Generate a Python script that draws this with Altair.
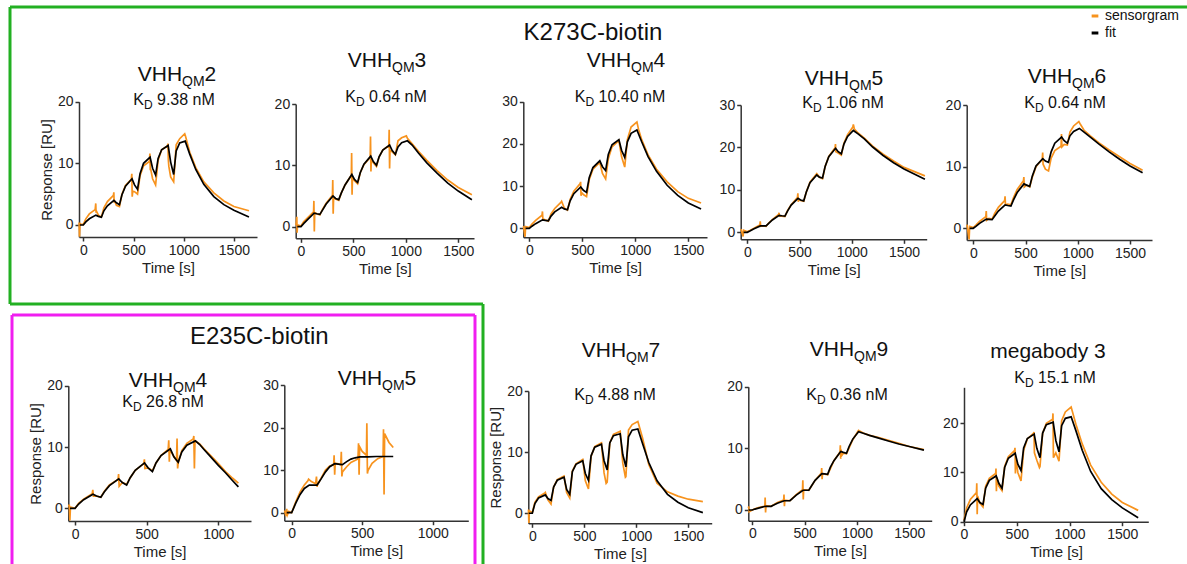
import altair as alt
import pandas as pd

W, H = 1187, 564
ORANGE = "#f7931e"
BLACK = "#000000"
GREEN = "#22b022"
MAGENTA = "#f01ef0"
FONT = "Arial, Liberation Sans, Helvetica, sans-serif"

# ---------------- data ----------------
SERIES = ["sensorgram", "fit"]

T_FIT6 = [-35, 0, 25, 60, 125, 150, 180, 205, 240, 305, 330, 360, 385, 420, 485, 510,
          540, 565, 600, 665, 690, 720, 745, 780, 845, 870, 900, 925, 960, 1015, 1060,
          1120, 1200, 1300, 1400, 1500]
T_FIT5 = [-35, 0, 25, 60, 125, 150, 180, 205, 240, 305, 330, 360, 385, 420, 485, 510,
          540, 565, 600, 665, 690, 720, 745, 780, 840, 870, 900, 950, 1000, 1050, 1100, 1140]
T_FIT_E5 = [-35, 0, 30, 60, 90, 125, 180, 210, 240, 270, 305, 330, 360, 390, 420, 450,
            485, 540, 600, 660, 720]

FIT_QM2 = [0, 0, 0.5, 1.0, 1.6, 1.4, 1.25, 2.3, 3.1, 4.0, 3.6, 3.3, 4.9, 6.3, 7.5, 6.5,
           5.8, 8.3, 10.0, 11.0, 9.2, 8.1, 10.8, 12.2, 12.9, 10.2, 8.2, 12.0, 13.3, 13.6,
           11.5, 9.0, 6.6, 4.6, 3.3, 2.4, 1.3]
SENS_QM2 = [(-42, 0.4), (-38, -1.9), (-33, 0.3), (-28, 0.1), (0, 0.1), (25, 1.0), (60, 1.8),
            (118, 2.5), (124, 3.5), (127, 2.0), (132, 2.2), (150, 1.6), (180, 1.3), (205, 2.8),
            (240, 3.8), (300, 4.8), (304, 5.3), (307, 3.6), (312, 3.9), (330, 3.2), (360, 3.0),
            (385, 5.0), (420, 6.4), (478, 7.4), (483, 8.3), (487, 4.6), (492, 5.5), (510, 5.4),
            (540, 5.0), (565, 8.0), (600, 9.6), (658, 10.3), (663, 11.6), (667, 9.0), (672, 9.0),
            (690, 7.5), (720, 6.5), (745, 10.5), (780, 12.2), (838, 12.8), (843, 13.2),
            (847, 10.5), (852, 9.5), (870, 7.8), (900, 7.0), (925, 13.0), (960, 14.0),
            (1010, 14.8), (1018, 14.4), (1060, 11.8), (1120, 9.3), (1200, 7.0), (1300, 5.2),
            (1400, 3.9), (1500, 3.0), (1650, 2.3)]

FIT_QM3 = [0, 0, 0.5, 1.1, 2.2, 2.1, 2.0, 2.7, 3.7, 5.0, 4.6, 4.4, 5.5, 6.8, 8.5, 7.7, 7.2,
           8.8, 10.2, 11.5, 10.6, 10.0, 11.4, 12.5, 13.3, 12.4, 11.8, 13.0, 13.7, 14.0, 13.3,
           12.0, 10.4, 8.7, 7.1, 5.8, 4.4]
SENS_QM3 = [(-48, 0.2), (-40, 1.6), (-37, -1.0), (-33, 0.3), (0, 0.1), (25, 0.8), (60, 1.4),
            (120, 2.4), (123, 4.2), (127, -0.8), (131, 2.3), (150, 2.1), (180, 1.9), (205, 2.8),
            (240, 3.8), (300, 5.1), (303, 7.6), (307, 2.1), (311, 4.8), (330, 4.5), (360, 4.3),
            (385, 5.5), (420, 6.8), (480, 8.4), (483, 12.0), (487, 5.2), (491, 8.0), (510, 7.5),
            (540, 7.0), (565, 8.8), (600, 10.1), (660, 11.3), (663, 14.7), (667, 9.0),
            (671, 11.0), (690, 10.4), (720, 9.8), (745, 11.4), (780, 12.5), (838, 13.2),
            (841, 15.8), (845, 9.5), (849, 12.5), (870, 12.2), (900, 11.7), (925, 14.0),
            (960, 14.5), (1005, 14.8), (1015, 14.4), (1060, 13.5), (1120, 12.3), (1200, 10.8),
            (1300, 9.1), (1400, 7.6), (1500, 6.4), (1630, 5.2)]

FIT_QM4 = [0, 0, 0.5, 1.1, 2.0, 1.9, 1.8, 2.9, 3.9, 5.0, 4.6, 4.4, 6.5, 8.2, 9.8, 9.0, 8.5,
           12.0, 14.4, 16.0, 14.6, 13.7, 17.5, 19.8, 21.0, 18.5, 16.8, 20.5, 22.5, 23.3, 20.5,
           17.0, 13.5, 10.2, 7.8, 6.0, 4.6]
SENS_QM4 = [(-55, 0.5), (-40, -2.0), (-35, 0.4), (0, 0.2), (25, 1.0), (60, 1.9), (120, 3.1),
            (124, 4.0), (128, 2.2), (150, 2.0), (180, 1.7), (205, 3.4), (240, 4.7), (300, 6.2),
            (305, 6.4), (330, 4.8), (360, 4.3), (385, 6.8), (420, 8.8), (480, 10.6), (484, 11.0),
            (488, 7.7), (492, 8.5), (510, 8.0), (540, 7.5), (565, 11.5), (600, 14.0), (665, 15.6),
            (690, 13.0), (720, 11.7), (745, 16.5), (780, 19.3), (845, 20.8), (870, 17.0),
            (900, 14.5), (925, 21.0), (960, 24.0), (1005, 25.0), (1015, 25.2), (1030, 23.5),
            (1060, 21.0), (1120, 17.4), (1200, 14.0), (1300, 11.0), (1400, 8.7), (1500, 7.1),
            (1620, 6.0)]

FIT_QM5 = [0, 0, 0.3, 0.8, 1.5, 1.5, 1.5, 2.1, 2.9, 4.0, 3.9, 3.8, 5.0, 6.4, 8.0, 7.6, 7.4,
           9.5, 11.7, 13.5, 13.0, 12.8, 15.5, 17.8, 19.8, 19.0, 18.5, 20.8, 22.6, 24.0, 23.2,
           22.0, 20.1, 18.1, 16.4, 14.9, 12.5]
SENS_QM5 = [(-60, 0.8), (-40, -1.0), (-35, 0.5), (0, 0.1), (25, 0.4), (60, 0.9), (120, 1.7),
            (124, 2.6), (128, 1.4), (150, 1.5), (180, 1.4), (205, 2.2), (240, 3.0), (300, 4.2),
            (304, 4.6), (308, 3.8), (330, 3.8), (360, 3.7), (385, 5.1), (420, 6.5), (480, 8.2),
            (484, 9.2), (488, 7.2), (492, 7.8), (510, 7.5), (540, 7.3), (565, 9.5), (600, 11.8),
            (665, 13.8), (690, 13.0), (720, 12.6), (745, 15.5), (780, 17.9), (840, 19.9),
            (844, 20.8), (848, 19.0), (870, 18.7), (900, 18.2), (925, 21.0), (960, 23.0),
            (1010, 24.8), (1015, 25.4), (1025, 24.3), (1060, 23.4), (1120, 22.2), (1200, 20.3),
            (1300, 18.4), (1400, 16.8), (1500, 15.3), (1700, 13.3)]

FIT_QM6 = [0, 0, 0.3, 0.8, 1.5, 1.45, 1.4, 2.0, 2.8, 3.8, 3.7, 3.6, 4.6, 5.8, 7.2, 7.0, 6.8,
           8.5, 10.1, 11.3, 10.9, 10.7, 12.4, 13.8, 14.8, 14.2, 13.8, 15.0, 15.7, 16.2, 15.6,
           14.8, 13.7, 12.4, 11.2, 10.1, 9.0]
SENS_QM6 = [(-60, 0.6), (-40, -1.8), (-35, 0.3), (0, 0.1), (25, 0.5), (60, 1.1), (120, 1.9),
            (124, 2.8), (128, 1.3), (150, 1.6), (180, 1.5), (205, 2.4), (240, 3.4), (300, 4.5),
            (304, 5.2), (308, 3.8), (330, 3.9), (360, 3.8), (385, 5.0), (420, 6.3), (480, 7.7),
            (484, 8.3), (488, 6.7), (510, 7.0), (540, 6.7), (565, 8.3), (600, 10.0), (660, 11.2),
            (664, 12.3), (668, 10.4), (690, 9.6), (720, 9.3), (745, 11.4), (780, 12.6),
            (840, 13.3), (844, 15.3), (848, 13.2), (870, 13.6), (900, 13.5), (925, 15.6),
            (960, 16.6), (1010, 17.3), (1020, 17.0), (1060, 15.9), (1120, 15.0), (1200, 13.9),
            (1300, 12.7), (1400, 11.6), (1500, 10.5), (1620, 9.4)]

FIT_E_QM4 = [0, 0, 0.7, 1.4, 2.3, 2.0, 1.8, 2.7, 3.7, 4.8, 4.2, 3.8, 5.0, 6.2, 7.4, 6.6, 6.0,
             7.4, 8.6, 9.7, 8.4, 7.5, 9.2, 10.3, 11.0, 10.4, 9.6, 8.3, 7.0, 5.8, 4.5, 3.5]
SENS_E_QM4 = [(-45, 0.3), (-40, 0.6), (-36, -2.0), (-32, 0.2), (0, 0.0), (25, 0.8), (60, 1.5),
              (120, 2.4), (124, 3.0), (128, 2.0), (150, 2.0), (180, 1.8), (205, 2.8), (240, 3.8),
              (300, 4.7), (304, 5.6), (308, 3.6), (330, 4.2), (360, 3.9), (385, 5.0), (420, 6.2),
              (480, 7.3), (484, 8.0), (488, 6.5), (510, 6.6), (540, 6.1), (565, 7.4), (600, 8.6),
              (650, 9.6), (654, 11.1), (658, 7.6), (662, 9.6), (690, 8.4), (708, 7.8),
              (712, 11.4), (716, 6.5), (720, 7.4), (745, 9.4), (780, 10.6), (825, 11.3),
              (829, 11.8), (833, 6.5), (837, 11.0), (870, 10.5), (900, 9.7), (950, 8.5),
              (1000, 7.3), (1050, 6.0), (1100, 4.9), (1140, 4.1)]

FIT_E_QM5 = [0, 0, 2.3, 4.3, 5.7, 6.5, 6.5, 8.0, 9.6, 10.8, 11.5, 11.4, 11.3, 12.0, 12.6,
             12.9, 13.1, 13.1, 13.2, 13.2, 13.2]
SENS_E_QM5 = [(-50, 0.5), (-40, -0.8), (-35, 0.9), (-30, -0.5), (-20, 0.3), (0, 0.0), (30, 2.6),
              (60, 4.9), (90, 6.5), (115, 7.5), (120, 7.9), (140, 7.3), (170, 6.8), (176, 8.5),
              (180, 6.1), (184, 6.6), (210, 8.2), (240, 10.0), (270, 11.0), (298, 11.3),
              (301, 13.5), (305, 8.9), (309, 11.6), (330, 11.5), (348, 11.2), (352, 14.3),
              (356, 8.5), (360, 9.6), (390, 10.8), (420, 11.8), (470, 12.6), (474, 16.3),
              (478, 8.9), (482, 15.5), (500, 14.4), (530, 13.5), (533, 21.0), (537, 9.2),
              (541, 9.9), (570, 11.6), (610, 12.7), (648, 13.2), (651, 19.6), (655, 4.3),
              (659, 18.6), (690, 16.5), (720, 15.3)]

FIT_QM7 = [0, 0, 1.6, 2.5, 3.0, 2.4, 2.1, 4.3, 5.4, 5.9, 3.9, 3.1, 6.8, 8.0, 8.6, 6.5, 5.4,
           9.4, 10.8, 11.3, 8.6, 7.1, 11.5, 12.7, 13.0, 9.6, 7.6, 12.5, 13.6, 13.8, 11.4, 8.3,
           5.3, 3.1, 1.8, 0.9, 0.1]
SENS_QM7 = [(-37, 0.6), (-33, -1.6), (-29, 0.4), (0, 0.1), (25, 1.8), (60, 2.7), (120, 3.3),
            (125, 3.4), (150, 2.2), (180, 1.5), (205, 4.3), (240, 5.5), (305, 6.1), (330, 3.4),
            (360, 2.5), (385, 6.9), (420, 8.1), (485, 8.8), (510, 5.3), (540, 4.0), (565, 9.3),
            (600, 10.9), (665, 11.5), (690, 6.6), (710, 4.9), (720, 5.1), (745, 11.5),
            (780, 12.9), (845, 13.4), (870, 8.2), (895, 5.9), (900, 6.0), (925, 13.6),
            (960, 14.5), (1015, 15.0), (1060, 12.3), (1120, 8.0), (1200, 4.9), (1300, 3.5),
            (1400, 2.8), (1500, 2.3), (1640, 1.9)]

FIT_QM9 = [0, 0, 0.15, 0.3, 0.6, 0.6, 0.6, 0.8, 1.1, 1.5, 1.5, 1.5, 1.9, 2.4, 3.2, 3.2, 3.2,
           3.9, 4.8, 5.9, 5.85, 5.8, 6.9, 8.0, 9.5, 9.35, 9.2, 10.3, 11.5, 12.7, 12.45, 12.1,
           11.7, 11.2, 10.7, 10.3, 9.7]
SENS_QM9 = [(-37, 0.3), (-34, 0.6), (-30, -0.3), (0, 0.0), (25, 0.2), (60, 0.4), (120, 0.6),
            (123, 2.0), (127, -0.4), (131, 0.7), (180, 0.6), (240, 1.2), (300, 1.6), (303, 2.5),
            (307, 0.6), (311, 1.6), (360, 1.5), (420, 2.5), (480, 3.3), (483, 4.8), (487, 1.7),
            (491, 3.3), (540, 3.2), (600, 4.8), (660, 6.0), (663, 6.8), (667, 5.0), (671, 5.9),
            (720, 5.7), (780, 8.0), (838, 9.4), (841, 10.5), (845, 8.3), (849, 9.8), (853, 8.8),
            (870, 9.2), (900, 9.1), (960, 11.4), (1015, 12.9), (1060, 12.5), (1120, 12.1),
            (1200, 11.8), (1300, 11.3), (1400, 10.8), (1500, 10.3), (1640, 9.8)]

FIT_MB3 = [0, 2.0, 3.4, 4.7, 3.9, 3.5, 6.8, 8.4, 9.3, 7.8, 6.8, 11.0, 12.9, 13.9, 11.7, 10.4,
           15.0, 16.9, 17.8, 14.9, 13.0, 18.0, 19.7, 20.2, 16.5, 14.2, 19.5, 21.0, 21.3, 18.5,
           14.5, 10.2, 6.7, 4.5, 2.8, 0.8]
SENS_MB3 = [(0, 0.3), (25, 2.8), (60, 4.5), (118, 5.9), (121, 7.8), (125, 1.5), (129, 5.2),
            (150, 3.8), (180, 3.0), (205, 7.2), (240, 8.8), (300, 9.8), (303, 10.8), (307, 6.2),
            (311, 9.0), (330, 7.2), (360, 6.3), (385, 11.2), (420, 13.2), (480, 14.5),
            (483, 15.0), (487, 9.8), (491, 13.0), (510, 10.0), (540, 8.3), (565, 14.5),
            (600, 16.8), (660, 18.0), (663, 18.2), (667, 14.0), (690, 12.5), (715, 11.0),
            (720, 11.2), (745, 18.0), (780, 20.0), (840, 20.8), (843, 22.0), (847, 13.0),
            (870, 14.0), (900, 12.3), (925, 20.5), (960, 22.3), (1015, 23.3), (1060, 19.8),
            (1120, 15.8), (1200, 11.5), (1300, 8.0), (1400, 5.6), (1500, 3.9), (1650, 2.3)]

GROUP_TITLES = ["K273C-biotin", "E235C-biotin"]

# ---------------- layout ----------------
X3 = [0, 500, 1000, 1500]
X2 = [0, 500, 1000]
Y20 = [0, 10, 20]
Y30 = [0, 10, 20, 30]

PANELS = [
    dict(title=("VHH", "QM", "2"), kd="9.38", fit_t=T_FIT6 + [1650], fit=FIT_QM2, sens=SENS_QM2,
         xr=[79, 257], xd=[-43, 1730], yr=[237, 101.7], yd=[-1.95, 20], xt=X3, yt=Y20,
         ytitle=True, tpos=(177, 81), kpos=(174, 105)),
    dict(title=("VHH", "QM", "3"), kd="0.64", fit_t=T_FIT6 + [1630], fit=FIT_QM3, sens=SENS_QM3,
         xr=[295.7, 474], xd=[-50.5, 1650], yr=[238.3, 104], yd=[-1.9, 20], xt=X3, yt=Y20,
         ytitle=False, tpos=(387, 67), kpos=(386, 102)),
    dict(title=("VHH", "QM", "4"), kd="10.40", fit_t=T_FIT6 + [1620], fit=FIT_QM4, sens=SENS_QM4,
         xr=[523.3, 707], xd=[-56.6, 1676], yr=[237.3, 101.7], yd=[-2.13, 30], xt=X3, yt=Y30,
         ytitle=False, tpos=(626, 67), kpos=(620, 102)),
    dict(title=("VHH", "QM", "5"), kd="1.06", fit_t=T_FIT6 + [1700], fit=FIT_QM5, sens=SENS_QM5,
         xr=[740.7, 926.7], xd=[-63, 1717], yr=[239.3, 105], yd=[-1.65, 30], xt=X3, yt=Y30,
         ytitle=False, tpos=(844, 85), kpos=(843, 108)),
    dict(title=("VHH", "QM", "6"), kd="0.64", fit_t=T_FIT6 + [1620], fit=FIT_QM6, sens=SENS_QM6,
         xr=[966.7, 1152], xd=[-63, 1710], yr=[240, 105], yd=[-1.9, 20], xt=X3, yt=Y20,
         ytitle=False, tpos=(1067, 83), kpos=(1065, 108)),
    dict(title=("VHH", "QM", "4"), kd="26.8", fit_t=T_FIT5, fit=FIT_E_QM4, sens=SENS_E_QM4,
         xr=[68.3, 251], xd=[-47, 1228], yr=[521, 385.7], yd=[-2.07, 20], xt=X2, yt=Y20,
         ytitle=True, tpos=(168, 387), kpos=(163, 407)),
    dict(title=("VHH", "QM", "5"), kd=None, fit_t=T_FIT_E5, fit=FIT_E_QM5, sens=SENS_E_QM5,
         xr=[284.3, 468.3], xd=[-52, 1252], yr=[520.7, 385], yd=[-1.88, 30], xt=X2, yt=Y30,
         ytitle=False, tpos=(377, 385), kpos=None),
    dict(title=("VHH", "QM", "7"), kd="4.88", fit_t=T_FIT6 + [1640], fit=FIT_QM7, sens=SENS_QM7,
         xr=[528.3, 711.7], xd=[-38.5, 1725], yr=[523.3, 391], yd=[-1.64, 20], xt=X3, yt=Y20,
         ytitle=True, tpos=(621, 357), kpos=(615, 400)),
    dict(title=("VHH", "QM", "9"), kd="0.36", fit_t=T_FIT6 + [1640], fit=FIT_QM9, sens=SENS_QM9,
         xr=[748.3, 931.7], xd=[-38, 1714], yr=[520.7, 386.7], yd=[-1.74, 20], xt=X3, yt=Y20,
         ytitle=False, tpos=(849, 356), kpos=(847, 400)),
    dict(title=("megabody 3",), kd="15.1", fit_t=T_FIT6[1:] + [1650], fit=FIT_MB3, sens=SENS_MB3,
         xr=[964, 1148.3], xd=[0, 1746], yr=[521.7, 387.3], yd=[0, 27.3], xt=X3, yt=Y20,
         ytitle=False, tpos=(1048, 358), kpos=(1055, 383)),
]

CW = {'V': .667, 'H': .722, 'Q': .778, 'M': .833, 'K': .667, 'D': .722, ' ': .278,
      '.': .278, 'n': .556, 'm': .833, 'e': .556, 'g': .556, 'a': .556, 'b': .556,
      'o': .556, 'd': .556, 'y': .5}


def tw(s, size):
    return sum(CW.get(c, .556) for c in s) * size


ONE = pd.DataFrame({"k": [0]})


def txt(s, x, y, size):
    return alt.Chart(ONE).mark_text(
        text=s, font=FONT, fontSize=size, align="left", baseline="alphabetic", color="#111111"
    ).encode(x=alt.value(x), y=alt.value(y))


def rule(x1, y1, x2, y2, color):
    return alt.Chart(ONE).mark_rule(color=color, strokeWidth=3).encode(
        x=alt.value(x1), y=alt.value(y1), x2=alt.value(x2), y2=alt.value(y2))


COLOR = alt.Color(
    "series:N",
    scale=alt.Scale(domain=SERIES, range=[ORANGE, BLACK]),
    legend=alt.Legend(orient="none", legendX=1088, legendY=9, title=None, symbolType="stroke",
                      symbolStrokeWidth=3, symbolSize=45, labelFontSize=14, labelFont=FONT,
                      labelColor="#111111", rowPadding=3, labelOffset=3),
)


def panel(p):
    rows = []
    for i, (t, v) in enumerate(p["sens"]):
        rows.append({"t": t, "v": v, "series": "sensorgram", "i": i})
    for i, (t, v) in enumerate(zip(p["fit_t"], p["fit"])):
        rows.append({"t": t, "v": v, "series": "fit", "i": i})
    df = pd.DataFrame(rows)
    yb = p["yr"][0]
    xaxis = alt.Axis(orient="bottom", offset=yb - H, values=p["xt"], title="Time [s]",
                     format="d", labelFlush=False, labelOverlap=False)
    yaxis = alt.Axis(orient="left", offset=-p["xr"][0], values=p["yt"], format="d",
                     title="Response [RU]" if p["ytitle"] else None, labelOverlap=False)
    return alt.Chart(df).mark_line(strokeWidth=1.7).encode(
        x=alt.X("t:Q", scale=alt.Scale(domain=p["xd"], range=p["xr"], nice=False, zero=False),
                axis=xaxis),
        y=alt.Y("v:Q", scale=alt.Scale(domain=p["yd"], range=p["yr"], nice=False, zero=False),
                axis=yaxis),
        color=COLOR,
        order=alt.Order("i:Q"),
    )


layers = []
# frames
layers += [rule(10, 7, W + 5, 7, GREEN), rule(10, 7, 10, 304, GREEN),
           rule(10, 304, 483, 304, GREEN), rule(483, 304, 483, H + 5, GREEN)]
layers += [rule(12, 315, 475, 315, MAGENTA), rule(12, 315, 12, H + 5, MAGENTA),
           rule(475, 315, 475, H + 5, MAGENTA)]

for p in PANELS:
    layers.append(panel(p))

# group titles
layers.append(txt(GROUP_TITLES[0], 605 - tw("K273C-biotin", 24) / 2, 40, 24))
layers.append(txt(GROUP_TITLES[1], 270 - tw("E235C-biotin", 24) / 2, 344, 24))

for p in PANELS:
    cx, by = p["tpos"]
    if len(p["title"]) == 3:
        a, b, c = p["title"]
        w1, w2, w3 = tw(a, 21), tw(b, 14), tw(c, 21)
        x0 = cx - (w1 + w2 + w3) / 2
        layers += [txt(a, x0, by, 21), txt(b, x0 + w1, by + 5, 14), txt(c, x0 + w1 + w2, by, 21)]
    else:
        s = p["title"][0]
        layers.append(txt(s, cx - tw(s, 21) / 2, by, 21))
    if p["kd"]:
        cx, by = p["kpos"]
        s = p["kd"] + " nM"
        w1, w2, w3, ws = tw("K", 16), tw("D", 12), tw(s, 16), tw(" ", 16)
        x0 = cx - (w1 + w2 + ws + w3) / 2
        layers += [txt("K", x0, by, 16), txt("D", x0 + w1, by + 4, 12),
                   txt(s, x0 + w1 + w2 + ws, by, 16)]

chart = alt.layer(*layers).resolve_scale(
    x="independent", y="independent"
).resolve_axis(
    x="independent", y="independent"
).properties(
    width=W, height=H, padding=0,
    autosize=alt.AutoSizeParams(type="none", contains="padding"),
).configure_view(stroke=None).configure_axis(
    grid=False, domainColor="#333333", domainWidth=1.5, tickColor="#333333", tickWidth=1.5,
    tickSize=4, labelFont=FONT, labelFontSize=14, labelColor="#222222", labelPadding=2,
    titleFont=FONT, titleFontSize=15, titleFontWeight="normal", titleColor="#222222",
    titlePadding=3,
)

chart.save("out.html", embed_options={"renderer": "svg", "actions": False})
